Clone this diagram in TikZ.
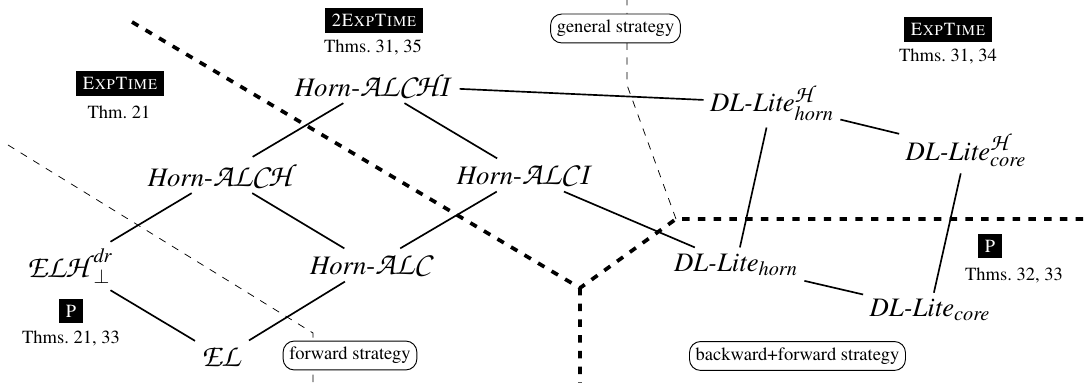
\documentclass[tikz,border=0pt]{standalone}
\usepackage[T1]{fontenc}
\usepackage{mathptmx}
\usepackage{amsmath}
\DeclareFontFamily{T1}{pzcbig}{}
\DeclareFontShape{T1}{pzcbig}{mb}{it}{<-> s*[1.2] pzcmi8t}{}
\DeclareMathAlphabet{\mathcal}{T1}{pzcbig}{mb}{it}

\begin{document}
\begin{tikzpicture}[x = 0.54pt, y = -0.54pt,
	dl/.style = {font = \Large},
	cls/.style = {fill = black, text = white, font = \scshape},
	strat/.style = {draw, rounded corners = 6pt, fill = white, line width = 0.5pt},
	sep/.style = {line width = 2pt, dash pattern = on 4pt off 4.5pt},
	stratline/.style = {line width = 0.4pt, dash pattern = on 4pt off 4pt},
	edge/.style = {line width = 0.9pt}]%complexity map
	\useasboundingbox (0,0) rectangle (1088,383);
	\coordinate (S1) at (132,22);
	\coordinate (S2) at (580,288);
	\coordinate (S3) at (676,219);
	\coordinate (S4) at (1090,219);
	\coordinate (S5) at (580,385);
	\coordinate (F1) at (8,145);
	\coordinate (F2) at (313,333);
	\coordinate (F3) at (313,385);
	\coordinate (G1) at (627,-2);
	\coordinate (G2) at (627,85);
	\draw[stratline] (F1) -- (F2) -- (F3);
	\draw[stratline] (G1) -- (G2) -- (S3);
	\draw[sep] (S1) -- (S2) -- (S3) -- (S4) (S2) -- (S5);

	\node[dl] (ALCHI) at (374,85) {$\mathit{Horn}\text{-}\mathcal{ALCHI}$};
	\node[dl] (ALCH) at (222,175) {$\mathit{Horn}\text{-}\mathcal{ALCH}$};
	\node[dl] (ALCI) at (525,175) {$\mathit{Horn}\text{-}\mathcal{ALCI}$};
	\node[dl] (ELH) at (70,266) {$\mathcal{ELH}^{\mathit{dr}}_{\bot}$};
	\node[dl] (ALC) at (372,265) {$\mathit{Horn}\text{-}\mathcal{ALC}$};
	\node[dl] (EL) at (222,357) {$\mathcal{EL}$};
	\node[dl] (LiteHhorn) at (772,103) {\textit{DL-Lite}$^{\mathcal{H}}_{\mathit{horn}}$};
	\node[dl] (LiteHcore) at (966,150) {\textit{DL-Lite}$^{\mathcal{H}}_{\mathit{core}}$};
	\node[dl] (Litehorn) at (736,265) {\textit{DL-Lite}$_{\mathit{horn}}$};
	\node[dl] (Litecore) at (930,310) {\textit{DL-Lite}$_{\mathit{core}}$};

	\draw[edge]
	(ALCHI) -- (ALCH)
	(ALCHI) -- (ALCI)
	(ALCHI) -- (LiteHhorn)
	(ALCH) -- (ELH)
	(ALCH) -- (ALC)
	(ALCI) -- (ALC)
	(ALCI) -- (Litehorn)
	(ELH) -- (EL)
	(ALC) -- (EL)
	(LiteHhorn) -- (Litehorn)
	(LiteHhorn) -- (LiteHcore)
	(LiteHcore) -- (Litecore)
	(Litehorn) -- (Litecore);

	\node[cls] (C1) at (374,20.5) {2ExpTime};
	\node (T1) at (373,48) {Thms.~31, 35};
	\node[cls] (C2) at (120,83.5) {ExpTime};
	\node (T2) at (119,112) {Thm.~21};
	\node[cls] (C3) at (948,29.5) {ExpTime};
	\node (T3) at (948,57) {Thms.~31, 34};
	\node[cls] (C4) at (71,311) {P};
	\node (T4) at (71,339) {Thms.~21, 33};
	\node[cls] (C5) at (990,246) {P};
	\node (T5) at (1014,276) {Thms.~32, 33};

	\node[strat] (General) at (615.5,28.5) {general strategy};
	\node[strat] (Forward) at (350,355.5) {forward strategy};
	\node[strat] (BackFwd) at (797.5,356) {backward+forward strategy};
\end{tikzpicture}
\end{document}
